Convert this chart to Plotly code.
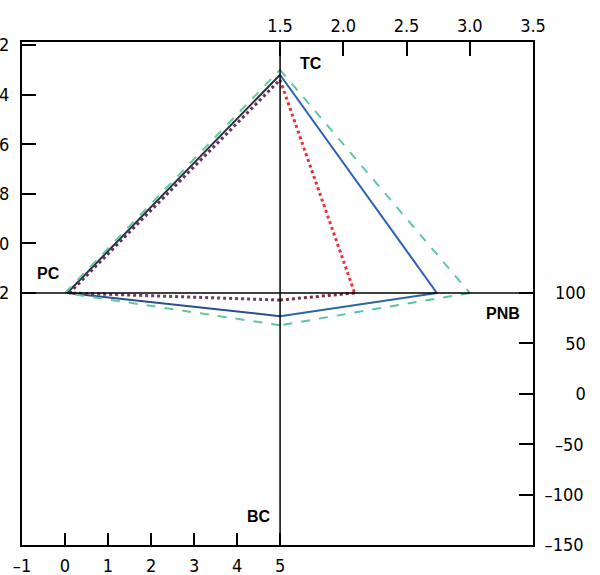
import plotly.graph_objects as go

# ---- data ----
series_names = ["solid", "dotted", "dashed"]
pc_vals = [0.05, 0.10, 0.00]       # bottom axis (PC)
tc_vals = [13.2, 13.4, 13.0]       # left axis (TC)
pnb_vals = [2.74, 2.09, 3.00]      # top axis (PNB)
bc_vals = [77, 93, 68]             # right axis (BC)

# axis crossing values (centre lines)
pc_cross = 5        # bottom axis value at the vertical centre line
tc_cross = 22       # left axis value at the horizontal centre line
pnb_cross = 1.5     # top axis value at the vertical centre line
bc_cross = 100      # right axis value at the horizontal centre line

bottom_ticks = [-1, 0, 1, 2, 3, 4, 5]
top_ticks = [1.5, 2.0, 2.5, 3.0, 3.5]
left_ticks = [12, 14, 16, 18, 20, 22]
left_ticktext = ["2", "4", "6", "8", "0", "2"]
right_ticks = [100, 50, 0, -50, -100, -150]

# ---- styles ----
seg_colors = [
    ["#24343f", "#2c5fb8", "#2a6aa0", "#2c4f8c"],
    ["#6a3062", "#e8323a", "#7a3040", "#6a4060"],
    ["#66cc9c", "#62c8a4", "#58c2aa", "#64c69c"],
]
dashes = ["solid", "dot", "dash"]
widths = [2, 3, 2]

fig = go.Figure()
for i in range(3):
    segs = [
        # PC -> TC : bottom x, left y
        dict(x=[pc_vals[i], pc_cross], y=[tc_cross, tc_vals[i]], xaxis="x", yaxis="y"),
        # TC -> PNB : top x, left y
        dict(x=[pnb_cross, pnb_vals[i]], y=[tc_vals[i], tc_cross], xaxis="x2", yaxis="y"),
        # PNB -> BC : top x, right y
        dict(x=[pnb_vals[i], pnb_cross], y=[bc_cross, bc_vals[i]], xaxis="x2", yaxis="y2"),
        # BC -> PC : bottom x, right y
        dict(x=[pc_cross, pc_vals[i]], y=[bc_vals[i], bc_cross], xaxis="x", yaxis="y2"),
    ]
    for k, s in enumerate(segs):
        fig.add_trace(go.Scatter(
            x=s["x"], y=s["y"], xaxis=s["xaxis"], yaxis=s["yaxis"],
            mode="lines", showlegend=False, hoverinfo="skip",
            line=dict(color=seg_colors[i][k], width=widths[i], dash=dashes[i]),
        ))

tick_font = dict(family="DejaVu Sans Condensed, Liberation Sans Narrow, Roboto, sans-serif",
                 size=18, color="black")
common = dict(showgrid=False, zeroline=False, showline=True, linecolor="black",
              linewidth=2, ticks="inside", tickcolor="black", tickwidth=1.5,
              tickfont=tick_font, automargin=False)


def right_label(v):
    s = ("\u2013" + str(-v)) if v < 0 else str(v)
    return "\u2007" * (4 - len(s)) + s


fig.update_layout(
    width=600, height=575,
    margin=dict(l=22, r=67, t=42, b=30),
    plot_bgcolor="white", paper_bgcolor="white",
    xaxis=dict(range=[-1, 10.88], tickvals=bottom_ticks, ticklen=12,
               ticktext=["\u20131" if v < 0 else str(v) for v in bottom_ticks],
               side="bottom", ticklabelstandoff=3, **common),
    xaxis2=dict(range=[-0.54, 3.5], tickvals=top_ticks, ticklen=14,
                ticktext=[f"{v:.1f}" for v in top_ticks],
                side="top", overlaying="x", ticklabelstandoff=1, **common),
    yaxis=dict(range=[32.16, 11.88], tickvals=left_ticks, ticktext=left_ticktext,
               ticklen=14, side="left", ticklabelstandoff=7, **common),
    yaxis2=dict(range=[-150, 349], tickvals=right_ticks, ticklen=14,
                ticktext=[right_label(v) for v in right_ticks],
                side="right", overlaying="y", ticklabelstandoff=6, **common),
)

# centre lines
fig.add_shape(type="line", xref="x", yref="paper", x0=pc_cross, x1=pc_cross, y0=0, y1=1,
              line=dict(color="black", width=1.5))
fig.add_shape(type="line", xref="paper", yref="y", x0=0, x1=1, y0=tc_cross, y1=tc_cross,
              line=dict(color="black", width=1.5))

lab_font = dict(family="Liberation Sans, Arial, sans-serif", size=16, color="black")
labels = [
    ("TC", "x", "y", 5.72, 12.75),
    ("PC", "x", "y", -0.38, 21.2),
    ("PNB", "x2", "y2", 3.26, 80),
    ("BC", "x", "y2", 4.5, -122),
]
for txt, xr, yr, xv, yv in labels:
    fig.add_annotation(text=f"<b>{txt}</b>", xref=xr, yref=yr, x=xv, y=yv,
                       showarrow=False, font=lab_font)

fig.write_html("out.html", config={"displayModeBar": False},
               post_script="document.body.style.margin='0';")
